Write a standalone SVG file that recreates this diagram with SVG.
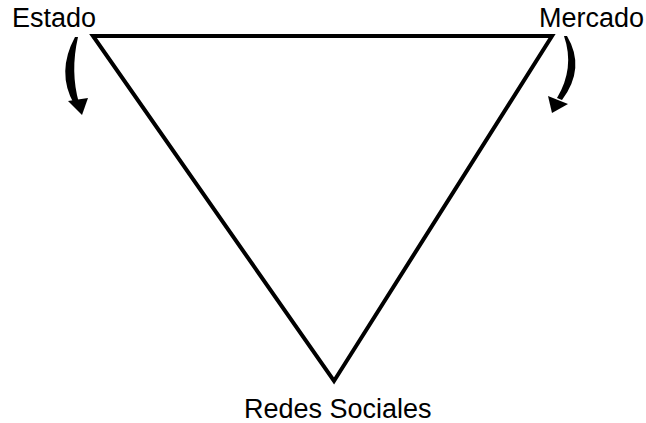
<svg xmlns="http://www.w3.org/2000/svg" width="646" height="423" viewBox="0 0 646 423">
<style>
text{font-family:"Liberation Sans",Arial,sans-serif;font-size:27px;fill:#000}
.tri{fill:none;stroke:#000;stroke-width:4;stroke-linejoin:miter}
.arr{fill:#000;stroke:none}
</style>
<rect width="646" height="423" fill="#fff"/>
<g id="triangle"><polygon class="tri" points="93,36 552,36 334,381"/></g>
<g id="estado"><text x="12" y="27">Estado</text></g>
<g id="mercado"><text x="539" y="27">Mercado</text></g>
<g id="redes"><text x="244" y="418">Redes Sociales</text></g>
<g id="connectors">
<path class="arr" d="M75,37 Q56,72 74,104 L79,103 Q70,72 78,37 Z"/>
<polygon class="arr" points="68,101 88,98 82,115"/>
<path class="arr" d="M567,36 Q586,68 562,100 L557,98 Q575,68 564,36 Z"/>
<polygon class="arr" points="548,96 568,104 552,113"/>
</g>
</svg>
